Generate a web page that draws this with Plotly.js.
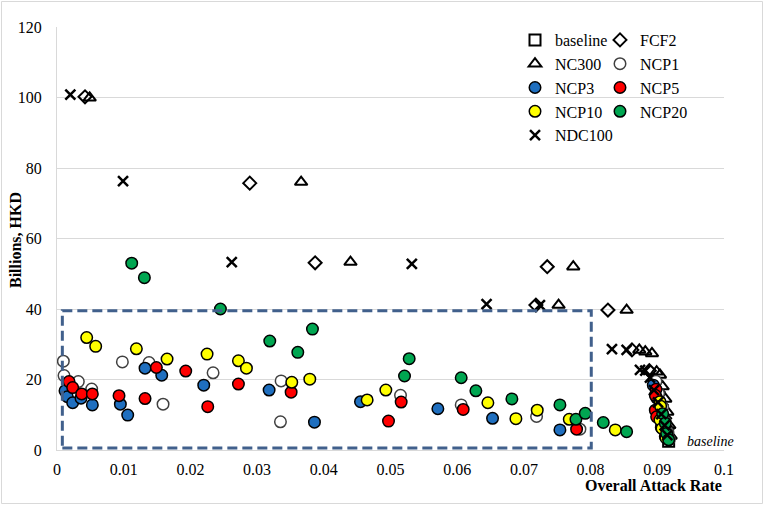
<!DOCTYPE html>
<html>
<head>
<meta charset="utf-8">
<script src="https://cdn.plot.ly/plotly-3.0.1.min.js"></script>
<style>html,body{margin:0;padding:0;background:#fff;}#chart{width:764px;height:505px;}</style>
</head>
<body>
<div id="chart"></div>
<script>
// ---- Data ----
const baselineX = [0.0917];
const baselineY = [2.5];

const fcf2X = [0.0042, 0.0289, 0.0387, 0.0735, 0.0718, 0.0826, 0.0862, 0.0888, 0.0895, 0.0901, 0.0906, 0.0911, 0.0915, 0.0918];
const fcf2Y = [100.2, 75.7, 53.1, 52.0, 41.1, 39.7, 28.4, 22.5, 19.8, 16.5, 12.8, 9.0, 6.0, 3.5];

const nc300X = [0.0049, 0.0366, 0.0440, 0.0774, 0.0752, 0.0854, 0.0873, 0.0882, 0.0892, 0.0899, 0.0904, 0.0908, 0.0912, 0.0915, 0.0918, 0.0920];
const nc300Y = [99.9, 76.0, 53.3, 52.0, 41.1, 39.7, 28.4, 27.9, 27.4, 22.2, 21.3, 18.0, 14.5, 10.8, 7.0, 4.0];

const ncp1X = [0.00095, 0.00105, 0.0032, 0.0052, 0.0098, 0.0138, 0.0159, 0.0234, 0.0336, 0.0335, 0.0515, 0.0606, 0.0719, 0.0784, 0.0898, 0.0902, 0.0908, 0.0912, 0.0916, 0.0918];
const ncp1Y = [25.2, 21.1, 19.4, 17.3, 25.0, 24.8, 13.0, 21.9, 19.6, 8.0, 15.5, 12.8, 9.5, 5.9, 19.5, 16.0, 12.2, 8.0, 5.0, 3.0];

const ncp3X = [0.0012, 0.00155, 0.00235, 0.0036, 0.0053, 0.0095, 0.0106, 0.0132, 0.0157, 0.0220, 0.0318, 0.0386, 0.0455, 0.0571, 0.0653, 0.0754, 0.0894, 0.0899, 0.0905, 0.0911, 0.0915];
const ncp3Y = [16.8, 15.1, 13.4, 14.7, 12.8, 13.0, 9.9, 23.2, 21.2, 18.4, 17.0, 7.9, 13.7, 11.7, 9.0, 5.7, 18.4, 14.8, 10.5, 6.8, 4.0];

const ncp5X = [0.0018, 0.00235, 0.0037, 0.0053, 0.0093, 0.0132, 0.0149, 0.0193, 0.0226, 0.0272, 0.0351, 0.0497, 0.0516, 0.0609, 0.0779, 0.0898, 0.0897, 0.0897, 0.0899, 0.0906, 0.0912];
const ncp5Y = [19.4, 17.7, 15.9, 15.9, 15.4, 14.6, 23.4, 22.4, 12.3, 18.7, 16.4, 8.2, 13.6, 11.5, 5.9, 17.2, 15.5, 11.3, 9.4, 6.4, 3.8];

const ncp10X = [0.00445, 0.0058, 0.0119, 0.0165, 0.0225, 0.0272, 0.0284, 0.0352, 0.0379, 0.0465, 0.0493, 0.0646, 0.0688, 0.0720, 0.0768, 0.0837, 0.0904, 0.0905, 0.0904, 0.0907, 0.0913];
const ncp10Y = [31.9, 29.4, 28.7, 25.8, 27.2, 25.3, 23.2, 19.2, 20.1, 14.2, 17.0, 13.4, 8.9, 11.3, 8.7, 5.7, 13.7, 12.4, 8.5, 6.1, 3.4];

const ncp20X = [0.0112, 0.0131, 0.0245, 0.0319, 0.0361, 0.0383, 0.0521, 0.0528, 0.0606, 0.0628, 0.0682, 0.0754, 0.0778, 0.0792, 0.0819, 0.0854, 0.0908, 0.0912, 0.0914, 0.0917];
const ncp20Y = [53.0, 48.9, 40.0, 30.9, 27.7, 34.3, 21.0, 25.9, 20.5, 16.8, 14.5, 12.8, 8.7, 10.4, 7.8, 5.2, 10.3, 7.6, 4.7, 2.9];

const ndc100X = [0.0020, 0.0099, 0.0262, 0.0532, 0.0644, 0.0724, 0.0832, 0.0854, 0.0874, 0.0882, 0.0889, 0.0895, 0.0901, 0.0906, 0.0911, 0.0915];
const ndc100Y = [100.8, 76.3, 53.3, 52.8, 41.4, 41.1, 28.6, 28.4, 22.7, 22.5, 20.5, 17.0, 13.5, 10.2, 7.0, 4.2];

const xTickVals = [0, 0.01, 0.02, 0.03, 0.04, 0.05, 0.06, 0.07, 0.08, 0.09, 0.1];
const xTickText = ['0', '0.01', '0.02', '0.03', '0.04', '0.05', '0.06', '0.07', '0.08', '0.09', '0.1'];
const yTickVals = [0, 20, 40, 60, 80, 100, 120];
const yTickText = ['0', '20', '40', '60', '80', '100', '120'];

// ---- Styling ----
const FONT = 'Liberation Serif';
function circ(color, lineColor) {
  return {symbol: 'circle', size: 11.5, color: color, line: {color: lineColor || '#000', width: 1.5}};
}

const traces = [
  {name: 'baseline', x: baselineX, y: baselineY, legend: 'legend',
   marker: {symbol: 'square-open', size: 11, color: '#000', line: {width: 2}}},
  {name: 'FCF2', x: fcf2X, y: fcf2Y, legend: 'legend2',
   marker: {symbol: 'diamond-open', size: 10, color: '#000', line: {width: 2}}},
  {name: 'NC300', x: nc300X, y: nc300Y, legend: 'legend',
   marker: {symbol: 'triangle-up-open', size: 11, color: '#000', line: {width: 2}}},
  {name: 'NCP1', x: ncp1X, y: ncp1Y, legend: 'legend2', marker: circ('#ffffff', '#404040')},
  {name: 'NCP3', x: ncp3X, y: ncp3Y, legend: 'legend', marker: circ('#1f6fbf')},
  {name: 'NCP5', x: ncp5X, y: ncp5Y, legend: 'legend2', marker: circ('#ff0000')},
  {name: 'NCP10', x: ncp10X, y: ncp10Y, legend: 'legend', marker: circ('#ffff00')},
  {name: 'NCP20', x: ncp20X, y: ncp20Y, legend: 'legend2', marker: circ('#00a651')},
  {name: 'NDC100', x: ndc100X, y: ndc100Y, legend: 'legend',
   marker: {symbol: 'x-thin-open', size: 10, color: '#000', line: {width: 2.5}}}
].map(t => Object.assign({type: 'scatter', mode: 'markers', hoverinfo: 'x+y+name'}, t));

const L = 57, R = 724, T = 27, B = 450;
const px2paperX = p => (p - L) / (R - L);
const px2paperY = p => (B - p) / (B - T);

const layout = {
  width: 764, height: 505,
  margin: {l: L, r: 764 - R, t: T, b: 505 - B, pad: 0},
  paper_bgcolor: '#ffffff', plot_bgcolor: '#ffffff',
  font: {family: FONT, size: 16, color: '#000'},
  showlegend: true,
  xaxis: {
    range: [0, 0.1], tickvals: xTickVals, ticktext: xTickText,
    showgrid: false, zeroline: false, showline: true, linecolor: '#d9d9d9', linewidth: 1,
    ticks: '', ticklabelstandoff: 5,
    tickfont: {family: FONT, size: 16, color: '#000'}, fixedrange: true
  },
  yaxis: {
    range: [0, 120], tickvals: yTickVals, ticktext: yTickText,
    showgrid: true, gridcolor: '#d9d9d9', gridwidth: 1,
    zeroline: false, showline: true, linecolor: '#d9d9d9', linewidth: 1,
    ticks: '', ticklabelstandoff: 11,
    tickfont: {family: FONT, size: 16, color: '#000'},
    automargin: false, fixedrange: true
  },
  legend: {x: px2paperX(515), y: px2paperY(23), xanchor: 'left', yanchor: 'top',
    bgcolor: 'rgba(0,0,0,0)', font: {family: FONT, size: 16, color: '#000'}, tracegroupgap: 0, itemwidth: 30},
  legend2: {x: px2paperX(600), y: px2paperY(23), xanchor: 'left', yanchor: 'top',
    bgcolor: 'rgba(0,0,0,0)', font: {family: FONT, size: 16, color: '#000'}, tracegroupgap: 0, itemwidth: 30},
  shapes: [
    {type: 'rect', xref: 'x', yref: 'y', x0: 0.0008, x1: 0.0801, y0: 0.6, y1: 39.5,
     line: {color: '#41608c', width: 3, dash: '10px,5px'}, fillcolor: 'rgba(0,0,0,0)', layer: 'above'},
    {type: 'rect', xref: 'paper', yref: 'paper',
     x0: px2paperX(1.5), x1: px2paperX(762.5), y0: px2paperY(503.5), y1: px2paperY(1.5),
     line: {color: '#d9d9d9', width: 1}, fillcolor: 'rgba(0,0,0,0)', layer: 'below'}
  ],
  annotations: [
    {text: '<b>Billions, HKD</b>', xref: 'paper', yref: 'paper', x: px2paperX(16), y: px2paperY(240),
     xanchor: 'center', yanchor: 'middle', textangle: -90, showarrow: false,
     font: {family: FONT, size: 16, color: '#000'}},
    {text: '<b>Overall Attack Rate</b>', xref: 'paper', yref: 'paper', x: 1, y: px2paperY(486),
     xanchor: 'right', yanchor: 'middle', showarrow: false, font: {family: FONT, size: 16, color: '#000'}},
    {text: '<i>baseline</i>', xref: 'x', yref: 'y', x: 0.0941, y: 2.3,
     xanchor: 'left', yanchor: 'middle', showarrow: false, font: {family: FONT, size: 14, color: '#000'}}
  ]
};

Plotly.newPlot('chart', traces, layout, {displayModeBar: false, staticPlot: true});
</script>
</body>
</html>
